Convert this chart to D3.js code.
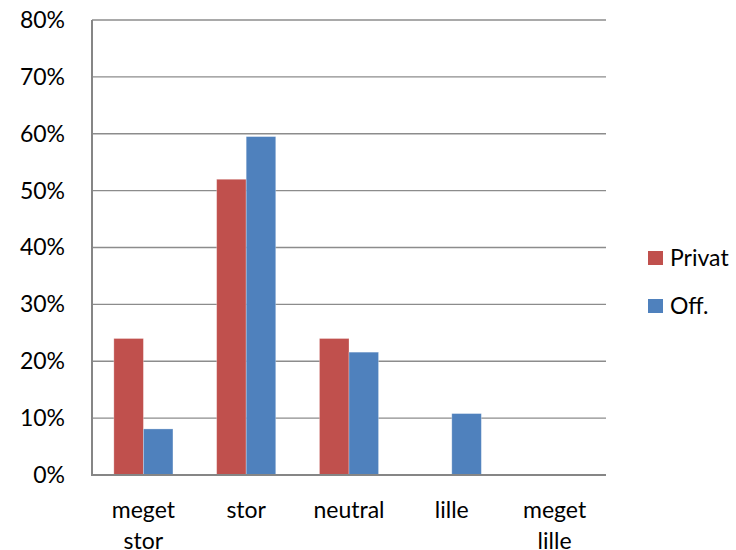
<!DOCTYPE html>
<html>
<head>
<meta charset="utf-8">
<script src="https://cdn.jsdelivr.net/npm/d3@7"></script>
<style>
  html, body { margin: 0; padding: 0; background: #fff; }
  svg text { font-family: Lato, "Open Sans", "Liberation Sans", sans-serif; fill: #000; }
</style>
</head>
<body>
<svg id="chart" width="736" height="550"></svg>
<script>
// Categories and series values (shares)
const categories = ["meget stor", "stor", "neutral", "lille", "meget lille"];
const seriesNames = ["Privat", "Off."];
const privat = [0.24, 0.52, 0.24, 0, 0];
const off = [0.081, 0.595, 0.216, 0.108, 0];
const yTicks = [0, 0.1, 0.2, 0.3, 0.4, 0.5, 0.6, 0.7, 0.8];
const colors = ["#C0504D", "#4F81BD"];

(function draw() {
  const rows = categories.map((c, i) => ({ cat: c, values: [privat[i], off[i]] }));
  const fontSize = 23;

  const svg = d3.select("#chart");
  const plotLeft = 92, plotRight = 606, plotTop = 20, plotBottom = 475;

  const x = d3.scaleBand().domain(categories).range([plotLeft, plotRight]).paddingInner(0).paddingOuter(0);
  const x1 = d3.scaleBand().domain(seriesNames).range([0, x.bandwidth()]).paddingInner(0).paddingOuter(0.74);
  const y = d3.scaleLinear().domain([0, 0.8]).range([plotBottom, plotTop]);

  // Horizontal gridlines
  svg.append("g")
    .selectAll("line")
    .data(yTicks.filter(t => t > 0))
    .join("line")
    .attr("x1", plotLeft).attr("x2", plotRight)
    .attr("y1", d => y(d)).attr("y2", d => y(d))
    .attr("stroke", "#8c8c8c").attr("stroke-width", 1.3);

  // Y axis labels
  const yAxis = d3.axisLeft(y).tickValues(yTicks).tickFormat(d3.format(".0%")).tickSize(0).tickPadding(27);
  const gy = svg.append("g").attr("transform", `translate(${plotLeft},0)`).call(yAxis);
  gy.select(".domain").remove();
  gy.selectAll("text").attr("font-size", fontSize).style("font-family", "Lato, 'Open Sans', sans-serif");

  // Bars
  const groups = svg.append("g").selectAll("g")
    .data(rows)
    .join("g")
    .attr("transform", d => `translate(${x(d.cat)},0)`);

  groups.selectAll("rect")
    .data(d => d.values.map((v, i) => ({ key: seriesNames[i], v, i })).filter(d => d.v > 0))
    .join("rect")
    .attr("x", d => x1(d.key))
    .attr("width", x1.bandwidth())
    .attr("y", d => y(d.v))
    .attr("height", d => y(0) - y(d.v))
    .attr("fill", d => colors[d.i])
    .attr("stroke", "rgba(255,255,255,0.35)")
    .attr("stroke-width", 0.8);

  // Axis lines
  svg.append("line").attr("x1", plotLeft).attr("x2", plotLeft).attr("y1", plotTop).attr("y2", plotBottom + 1)
    .attr("stroke", "#868686").attr("stroke-width", 2);
  svg.append("line").attr("x1", plotLeft - 1).attr("x2", plotRight).attr("y1", plotBottom).attr("y2", plotBottom)
    .attr("stroke", "#868686").attr("stroke-width", 2);

  // X category labels (wrapped)
  const xLab = svg.append("g");
  categories.forEach(c => {
    const words = c.split(" ");
    const cx = x(c) + x.bandwidth() / 2;
    const t = xLab.append("text")
      .attr("text-anchor", "middle")
      .attr("font-size", fontSize)
      .attr("x", cx)
      .attr("y", 518);
    words.forEach((w, i) => {
      t.append("tspan").attr("x", cx).attr("dy", i === 0 ? 0 : 31).text(w);
    });
  });

  // Legend
  const legend = svg.append("g").selectAll("g")
    .data(seriesNames)
    .join("g")
    .attr("transform", (d, i) => `translate(648,${251 + i * 48})`);
  legend.append("rect").attr("width", 15).attr("height", 14).attr("fill", (d, i) => colors[i]);
  legend.append("text").attr("x", 22).attr("y", 15).attr("font-size", fontSize).text(d => d);
})();
</script>
</body>
</html>
